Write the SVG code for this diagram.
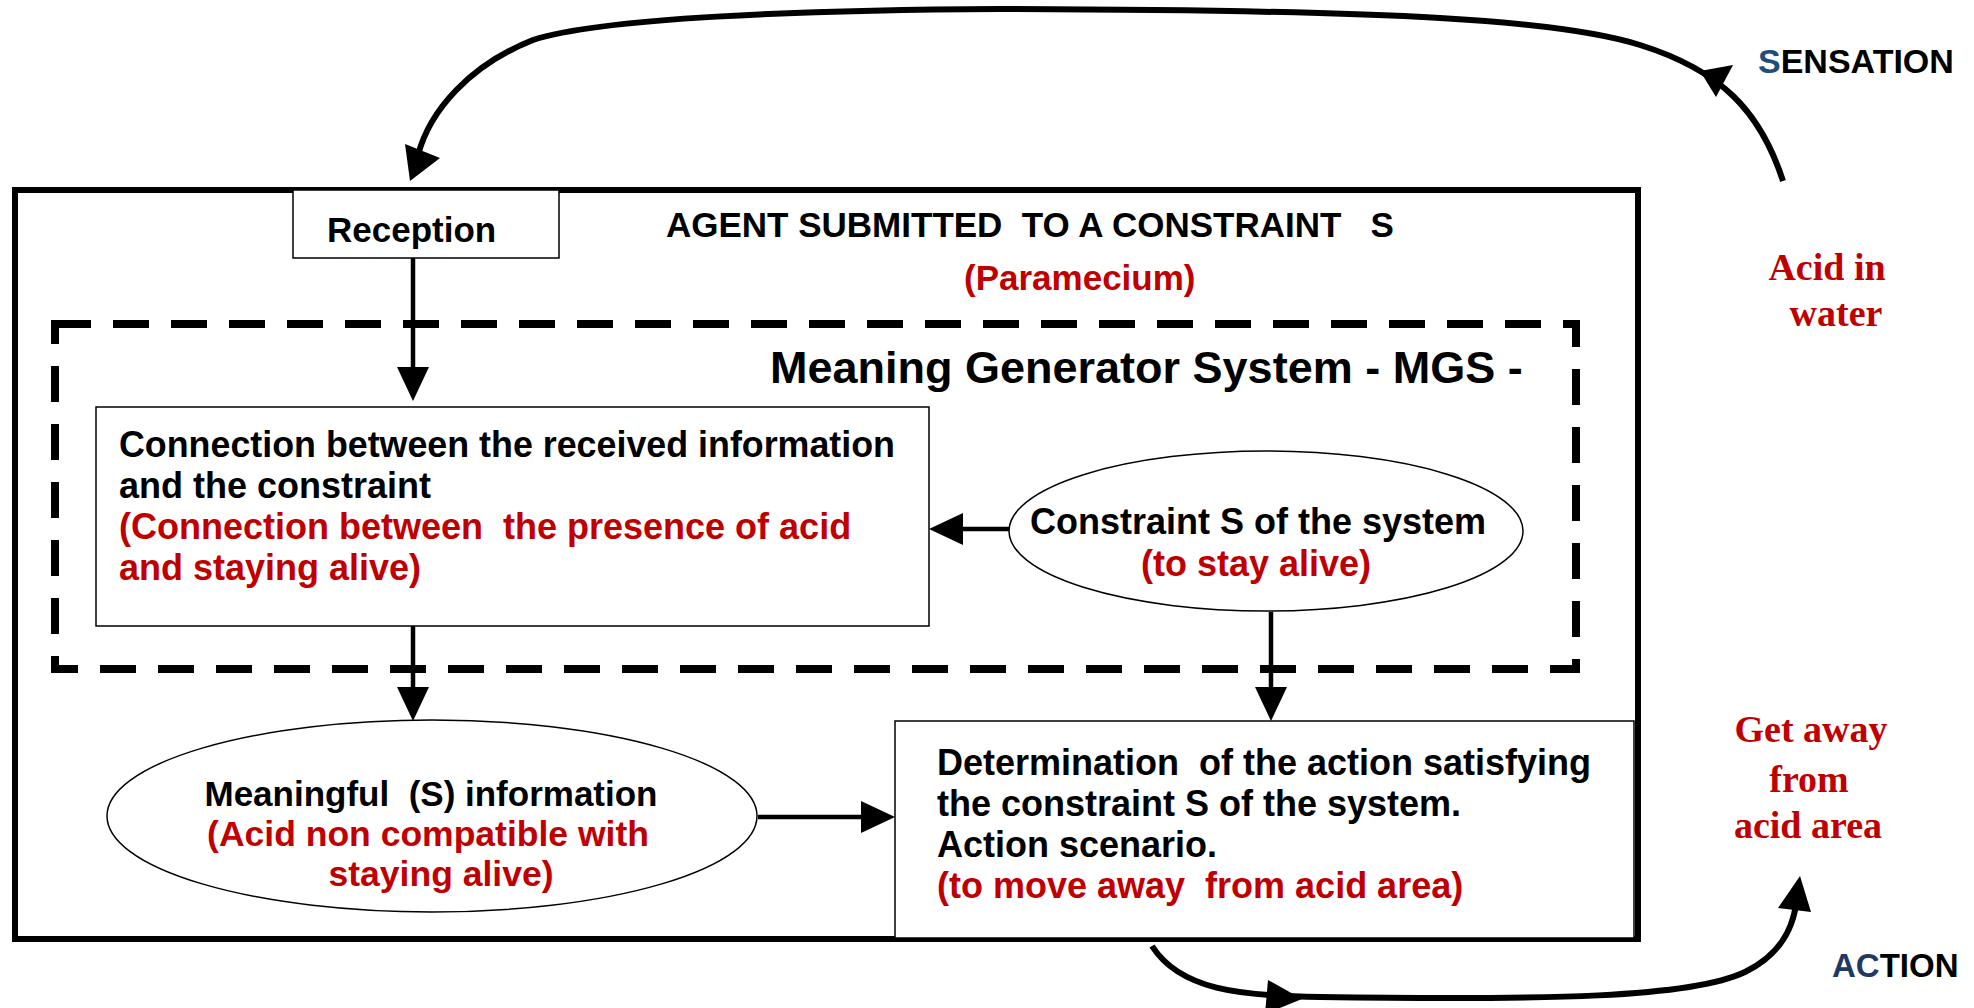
<svg xmlns="http://www.w3.org/2000/svg" width="1974" height="1008" viewBox="0 0 1974 1008">
<style>
.t{font-family:"Liberation Sans",Arial,sans-serif;font-weight:bold;font-size:35px;fill:#000;white-space:pre}
.m{font-size:36px}
.r{fill:#C00000}
.b{fill:#1F4E79}
.sf{font-family:"Liberation Serif","Times New Roman",serif;font-weight:bold;font-size:38px;fill:#C00000;text-anchor:middle}
.box{fill:#fff;stroke:#000;stroke-width:1.5}
.conn{fill:none;stroke:#000;stroke-width:4.5}
.curve{fill:none;stroke:#000;stroke-width:6}
.head{fill:#000}
</style>
<defs>
<marker id="ah" markerUnits="userSpaceOnUse" markerWidth="34" markerHeight="32" refX="12" refY="16" orient="auto">
<path d="M0,0 L34,16 L0,32 Z" fill="#000"/>
</marker>
</defs>
<rect width="1974" height="1008" fill="#fff"/>

<g id="agent">
<rect x="15" y="190" width="1623" height="749" fill="none" stroke="#000" stroke-width="6"/>
<text class="t" x="666" y="237">AGENT SUBMITTED  TO A CONSTRAINT   S</text>
<text class="t r" x="964" y="290">(Paramecium)</text>
</g>

<g id="mgs">
<rect x="55" y="324" width="1521" height="345" fill="none" stroke="#000" stroke-width="8" stroke-dasharray="36 22"/>
<text class="t" x="770" y="383" style="font-size:45px">Meaning Generator System - MGS -</text>
</g>

<g id="connectors">
<line class="conn" x1="413" y1="258" x2="413" y2="379" marker-end="url(#ah)"/>
<line class="conn" x1="413" y1="626" x2="413" y2="699" marker-end="url(#ah)"/>
<line class="conn" x1="1009" y1="529" x2="951" y2="529" marker-end="url(#ah)"/>
<line class="conn" x1="1271" y1="612" x2="1271" y2="699" marker-end="url(#ah)"/>
<line class="conn" x1="758" y1="817" x2="873" y2="817" marker-end="url(#ah)"/>
<path class="curve" d="M1783,181 C1760,110 1720,70 1640,45 C1560,20 1400,10 1000,9 C800,10 600,18 533,40 C470,65 430,110 418,155"/>
<polygon class="head" points="1700,71 1733,65 1716,97"/>
<polygon class="head" points="410,181 405,144 440,158"/>
<path class="curve" d="M1152,946 C1180,990 1240,996 1320,997 C1550,1000 1690,998 1745,972 C1780,955 1792,930 1796,905"/>
<polygon class="head" points="1302,999 1268,980 1265,1014"/>
<polygon class="head" points="1800,876 1778,908 1811,912"/>
</g>

<g id="reception">
<rect class="box" x="293" y="190" width="266" height="68"/>
<text class="t" x="327" y="242">Reception</text>
</g>

<g id="connection">
<rect class="box" x="96" y="407" width="833" height="219"/>
<text class="t m" x="119" y="457" textLength="776" lengthAdjust="spacingAndGlyphs">Connection between the received information</text>
<text class="t m" x="119" y="498">and the constraint</text>
<text class="t r m" x="119" y="539">(Connection between  the presence of acid</text>
<text class="t r m" x="119" y="580">and staying alive)</text>
</g>

<g id="constraint">
<ellipse class="box" cx="1266" cy="531" rx="257" ry="80"/>
<text class="t m" x="1258" y="534" text-anchor="middle">Constraint S of the system</text>
<text class="t r m" x="1256" y="576" text-anchor="middle">(to stay alive)</text>
</g>

<g id="meaningful">
<ellipse class="box" cx="432" cy="816" rx="325" ry="96"/>
<text class="t" x="431" y="806" text-anchor="middle">Meaningful  (S) information</text>
<text class="t r" x="428" y="846" text-anchor="middle" style="font-size:35.5px">(Acid non compatible with</text>
<text class="t r" x="441" y="886" text-anchor="middle" style="font-size:35.5px">staying alive)</text>
</g>

<g id="determination">
<rect class="box" x="895" y="721" width="739" height="217"/>
<text class="t m" x="937" y="775">Determination  of the action satisfying</text>
<text class="t m" x="937" y="816">the constraint S of the system.</text>
<text class="t m" x="937" y="857">Action scenario.</text>
<text class="t r m" x="937" y="898">(to move away  from acid area)</text>
</g>

<g id="sensation">
<text class="t" x="1758" y="73" style="font-size:34px"><tspan class="b">S</tspan>ENSATION</text>
</g>

<g id="acid-in-water">
<text class="sf" x="1827" y="280">Acid in</text>
<text class="sf" x="1836" y="326">water</text>
</g>

<g id="get-away">
<text class="sf" x="1811" y="742">Get away</text>
<text class="sf" x="1809" y="792">from</text>
<text class="sf" x="1808" y="838">acid area</text>
</g>

<g id="action">
<text class="t" x="1832" y="977" style="font-size:33px"><tspan fill="#1F3864">AC</tspan>TION</text>
</g>
</svg>
